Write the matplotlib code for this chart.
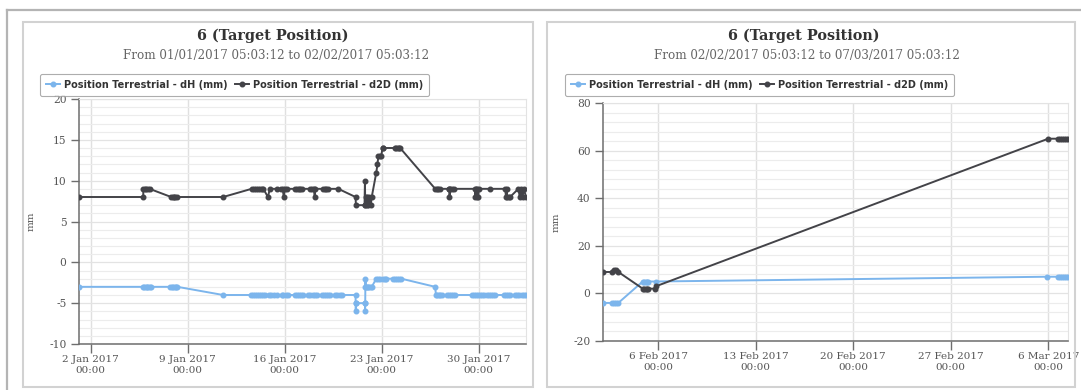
import matplotlib
matplotlib.use("Agg")
import matplotlib.pyplot as plt
import matplotlib.dates as mdates
from matplotlib.patches import Rectangle
from matplotlib.lines import Line2D
from matplotlib.ticker import MultipleLocator
import pandas as pd

plt.rcParams["axes.unicode_minus"] = False

W, H, DPI = 1081, 390, 100

BLUE = "#7cb5ec"
DARK = "#434348"

# ---- Panel 1: January 2017 (time = fractional day of January) ----
jan_d2d_day = [1.15, 5.78, 5.80, 5.90, 6.00, 6.10, 6.24, 7.80, 7.90, 8.00, 8.10, 8.20,
               11.55, 13.60, 13.75, 13.90, 14.05, 14.20, 14.35, 14.45, 14.78, 14.92,
               15.45, 15.75, 15.85, 15.92, 16.00, 16.13, 16.73, 16.85, 17.00, 17.10, 17.21,
               17.81, 17.95, 18.10, 18.16, 18.18, 18.78, 18.90, 19.00, 19.14, 19.86,
               21.10, 21.13, 21.75, 21.78, 21.80, 21.85, 21.90, 21.95, 22.00, 22.10, 22.20, 22.27,
               22.60, 22.68, 22.75, 22.85, 22.95, 23.05, 23.11, 23.96, 24.05, 24.15, 24.25, 24.32,
               26.85, 26.95, 27.05, 27.21, 27.81, 27.86, 27.88, 27.95, 28.05, 28.17,
               29.70, 29.75, 29.80, 29.85, 29.90, 29.95, 30.00, 30.83,
               31.91, 31.95, 32.00, 32.05, 32.15, 32.25, 32.85, 32.95, 33.05, 33.15, 33.25, 33.40]
jan_d2d_mm = [8, 8, 9, 9, 9, 9, 9, 8, 8, 8, 8, 8,
              8, 9, 9, 9, 9, 9, 9, 9, 8, 9,
              9, 9, 9, 8, 9, 9, 9, 9, 9, 9, 9,
              9, 9, 9, 8, 9, 9, 9, 9, 9, 9,
              8, 7, 7, 10, 7, 8, 7, 8, 7, 8, 7, 8,
              11, 12, 13, 13, 13, 14, 14, 14, 14, 14, 14, 14,
              9, 9, 9, 9, 9, 9, 8, 9, 9, 9,
              9, 8, 9, 8, 9, 8, 9, 9,
              9, 8, 9, 8, 8, 8, 9, 8, 9, 8, 9, 8]

jan_dh_day = [1.15, 5.75, 5.85, 5.95, 6.05, 6.15, 6.25, 6.35, 7.75, 7.85, 7.95, 8.05, 8.15, 8.25,
              11.55, 13.55, 13.70, 13.85, 14.00, 14.15, 14.30, 14.45, 14.60, 14.85, 15.00, 15.20,
              15.45, 15.77, 15.90, 16.05, 16.25, 16.73, 16.88, 17.03, 17.18, 17.33,
              17.70, 17.85, 18.00, 18.15, 18.30, 18.66, 18.80, 18.95, 19.10, 19.26,
              19.63, 19.78, 19.95, 20.11, 21.10, 21.11, 21.12, 21.13, 21.78, 21.79, 21.80, 21.81,
              21.82, 21.83, 21.90, 22.00, 22.10, 22.20, 22.27,
              22.60, 22.75, 22.90, 23.05, 23.20, 23.30, 23.80, 23.95, 24.10, 24.25, 24.40,
              26.85, 26.90, 27.00, 27.10, 27.20, 27.33, 27.69, 27.85, 28.00, 28.15, 28.29,
              29.50, 29.65, 29.80, 29.95, 30.10, 30.25, 30.35, 30.59, 30.75, 30.90, 31.05, 31.19,
              31.79, 31.95, 32.10, 32.27, 32.63, 32.78, 32.93, 33.08, 33.23, 33.40]
jan_dh_mm = [-3, -3, -3, -3, -3, -3, -3, -3, -3, -3, -3, -3, -3, -3,
             -4, -4, -4, -4, -4, -4, -4, -4, -4, -4, -4, -4,
             -4, -4, -4, -4, -4, -4, -4, -4, -4, -4,
             -4, -4, -4, -4, -4, -4, -4, -4, -4, -4,
             -4, -4, -4, -4, -4, -5, -6, -5, -5, -6, -5, -3,
             -2, -3, -3, -3, -3, -3, -3,
             -2, -2, -2, -2, -2, -2, -2, -2, -2, -2, -2,
             -3, -4, -4, -4, -4, -4, -4, -4, -4, -4, -4,
             -4, -4, -4, -4, -4, -4, -4, -4, -4, -4, -4, -4,
             -4, -4, -4, -4, -4, -4, -4, -4, -4, -4]

# ---- Panel 2: February-March 2017 (time = fractional day counted from 31 Jan) ----
feb_d2d_day = [2.05, 2.70, 2.85, 3.00, 3.15, 4.90, 5.00, 5.10, 5.20, 5.30, 5.80, 5.85,
               34.00, 34.70, 34.85, 35.00, 35.15, 35.30, 35.42]
feb_d2d_mm = [9, 9, 10, 10, 9, 2, 2, 2, 2, 2, 2, 3,
              65, 65, 65, 65, 65, 65, 65]

feb_dh_day = [2.05, 2.70, 2.85, 3.00, 3.15, 4.90, 5.00, 5.10, 5.20, 5.30, 5.85,
              33.90, 34.70, 34.85, 35.00, 35.15, 35.30, 35.42]
feb_dh_mm = [-4, -4, -4, -4, -4, 5, 5, 5, 5, 5, 5,
             7, 7, 7, 7, 7, 7, 7]

SERIES_LABELS = ["Position Terrestrial - dH (mm)", "Position Terrestrial - d2D (mm)"]
TITLE = "6 (Target Position)"
SUBTITLES = ["From 01/01/2017 05:03:12 to 02/02/2017 05:03:12",
             "From 02/02/2017 05:03:12 to 07/03/2017 05:03:12"]


def to_dates(base, days):
    return pd.Timestamp(base) + pd.to_timedelta(days, unit="D")


def fx(px):
    return px / W


def fy(py):
    return 1 - py / H


fig = plt.figure(figsize=(W / DPI, H / DPI), dpi=DPI)
fig.patch.set_facecolor("white")

# outer frame and the two chart panels
fig.add_artist(Line2D([fx(7), fx(7)], [fy(10), 0], color="#b4b4b4", lw=1.6, transform=fig.transFigure))
fig.add_artist(Line2D([fx(7), 1], [fy(10), fy(10)], color="#b4b4b4", lw=1.6, transform=fig.transFigure))
for x0, x1 in [(23, 533), (547, 1075)]:
    fig.add_artist(Rectangle((fx(x0), fy(387)), fx(x1 - x0), (387 - 22) / H, fill=False,
                             edgecolor="#d2d2d2", lw=1.5, transform=fig.transFigure))


def style_axes(ax, ymin, ymax, major, minor):
    ax.set_ylim(ymin, ymax)
    ax.yaxis.set_major_locator(MultipleLocator(major))
    ax.yaxis.set_minor_locator(MultipleLocator(minor))
    ax.grid(which="major", axis="y", color="#e3e3e3", lw=0.9)
    ax.grid(which="minor", axis="y", color="#ececec", lw=0.8)
    ax.grid(which="major", axis="x", color="#e0e0e0", lw=1.0)
    ax.set_axisbelow(True)
    for side in ("top", "right"):
        ax.spines[side].set_color("#e3e3e3")
        ax.spines[side].set_linewidth(0.8)
    for side in ("left", "bottom"):
        ax.spines[side].set_color("#6e6e6e")
        ax.spines[side].set_linewidth(1.1)
    ax.xaxis.set_major_locator(mdates.WeekdayLocator(byweekday=mdates.MO))
    ax.xaxis.set_major_formatter(plt.FuncFormatter(
        lambda v, pos: (lambda d: f"{d.day} {d:%b %Y}\n{d:%H:%M}")(mdates.num2date(v))))
    ax.tick_params(axis="y", which="major", length=6, width=1, color="#6e6e6e", pad=3,
                   labelsize=7.7, labelcolor="#555555")
    ax.tick_params(axis="y", which="minor", length=0)
    ax.tick_params(axis="x", which="major", length=6.5, width=1, color="#6e6e6e", pad=1.5,
                   labelsize=7.5, labelcolor="#555555")
    for lab in ax.get_xticklabels() + ax.get_yticklabels():
        lab.set_family("DejaVu Serif")
        lab.set_linespacing(1.25)
    ax.set_ylabel("mm", family="DejaVu Serif", fontsize=7.5, color="#555555")


def draw(ax, dh_t, dh_v, d2_t, d2_v):
    ax.plot(dh_t, dh_v, color=BLUE, lw=1.4, marker="o", ms=3.3, zorder=3)
    ax.plot(d2_t, d2_v, color=DARK, lw=1.4, marker="o", ms=3.3, zorder=4)


# Panel 1
ax1 = fig.add_axes([fx(79), fy(344), fx(526 - 79), (344 - 99) / H])
t_dh = to_dates("2016-12-31", jan_dh_day)
t_d2 = to_dates("2016-12-31", jan_d2d_day)
draw(ax1, t_dh, jan_dh_mm, t_d2, jan_d2d_mm)
ax1.set_xlim(min(t_dh.min(), t_d2.min()), max(t_dh.max(), t_d2.max()))
style_axes(ax1, -10, 20, 5, 1)
ax1.yaxis.set_label_coords((36 - 79) / (526 - 79), 0.5)

# Panel 2
ax2 = fig.add_axes([fx(603), fy(341), fx(1068 - 603), (341 - 103) / H])
t_dh2 = to_dates("2017-01-31", feb_dh_day)
t_d22 = to_dates("2017-01-31", feb_d2d_day)
draw(ax2, t_dh2, feb_dh_mm, t_d22, feb_d2d_mm)
ax2.set_xlim(min(t_dh2.min(), t_d22.min()), max(t_dh2.max(), t_d22.max()))
style_axes(ax2, -20, 80, 20, 4)
ax2.yaxis.set_label_coords((561 - 603) / (1068 - 603), 0.5)

# titles, subtitles and legends
handles = [Line2D([], [], color=BLUE, lw=1.4, marker="o", ms=3.3),
           Line2D([], [], color=DARK, lw=1.4, marker="o", ms=3.3)]
for cx, sub, lx in [(273, SUBTITLES[0], 40), (804, SUBTITLES[1], 565)]:
    fig.text(fx(cx), fy(36), TITLE, ha="center", va="center", family="DejaVu Serif",
             weight="bold", fontsize=10.4, color="#333333")
    fig.text(fx(cx + 3), fy(56), sub, ha="center", va="center", family="DejaVu Serif",
             fontsize=8.6, color="#666666")
    leg = fig.legend(handles, SERIES_LABELS, loc="upper left", bbox_to_anchor=(fx(lx), fy(74)),
                     ncol=2, frameon=True, fancybox=True, borderaxespad=0, borderpad=0.6,
                     handlelength=1.5, handletextpad=0.4, columnspacing=0.7,
                     prop=dict(family="DejaVu Sans", weight="bold", size=7))
    leg.get_frame().set_edgecolor("#999999")
    leg.get_frame().set_linewidth(0.8)
    for txt in leg.get_texts():
        txt.set_color("#333333")

fig.savefig("out.png", dpi=DPI)
